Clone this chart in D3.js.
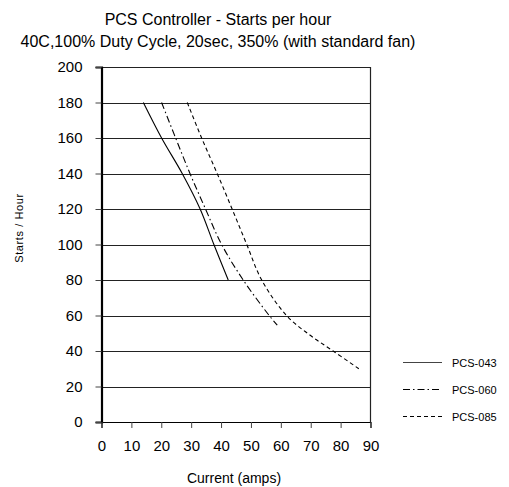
<!DOCTYPE html>
<html>
<head>
<meta charset="utf-8">
<script src="https://cdn.jsdelivr.net/npm/d3@7"></script>
<style>
body { margin: 0; background: #fff; }
text { font-family: "Liberation Sans Narrow", "Liberation Sans", Arial, sans-serif; fill: #000; }
</style>
</head>
<body>
<div id="chart-area"></div>
<script>
// data
var seriesNames = ["PCS-043", "PCS-060", "PCS-085"];
var pcs043 = [[14, 180], [20.1, 160], [27.0, 140], [33.0, 120], [37.6, 100], [42.4, 80]];
var pcs060 = [[20.1, 180], [24.8, 160], [29.6, 140], [34.8, 120], [40.2, 100], [47.4, 80], [56.1, 60], [58.8, 54.6]];
var pcs085 = [[28.7, 180], [33.5, 160], [38.7, 140], [43.7, 120], [48.6, 100], [53.6, 80], [61.9, 60], [69.7, 49], [77.5, 40], [86.1, 30]];
var xTicks = [0, 10, 20, 30, 40, 50, 60, 70, 80, 90];
var yTicks = [0, 20, 40, 60, 80, 100, 120, 140, 160, 180, 200];

var width = 509, height = 487;
var margin = {left: 101.5, right: 138.5, top: 67, bottom: 65};

var svg = d3.select("#chart-area").append("svg")
    .attr("width", width)
    .attr("height", height);

var x = d3.scaleLinear().domain([0, 90]).range([margin.left, width - margin.right]);
var y = d3.scaleLinear().domain([0, 200]).range([height - margin.bottom, margin.top]);

// title
svg.append("text").attr("x", 218).attr("y", 25).attr("text-anchor", "middle")
    .style("font-size", "16px").text("PCS Controller - Starts per hour");
svg.append("text").attr("x", 218).attr("y", 47).attr("text-anchor", "middle")
    .style("font-size", "16px").text("40C,100% Duty Cycle, 20sec, 350% (with standard fan)");

// horizontal gridlines
svg.append("g").selectAll("line").data(yTicks).enter().append("line")
    .attr("x1", x(0)).attr("x2", x(90))
    .attr("y1", function(d) { return Math.round(y(d)) + 0.5; })
    .attr("y2", function(d) { return Math.round(y(d)) + 0.5; })
    .attr("stroke", "#222").attr("stroke-width", 1);

// right border
svg.append("line").attr("x1", x(90)).attr("x2", x(90)).attr("y1", y(200)).attr("y2", y(0))
    .attr("stroke", "#222").attr("stroke-width", 1.2);

// y axis
var yAxis = svg.append("g").attr("transform", "translate(" + x(0) + ",0)")
    .call(d3.axisLeft(y).tickValues(yTicks).tickSize(6).tickPadding(13));
yAxis.select(".domain").attr("stroke", "#000").attr("stroke-width", 2.2);
yAxis.selectAll(".tick line").attr("stroke", "#444");
yAxis.selectAll("text").style("font-size", "15px").style("font-family", null);

// x axis
var xAxis = svg.append("g").attr("transform", "translate(0," + y(0) + ")")
    .call(d3.axisBottom(x).tickValues(xTicks).tickSize(6).tickPadding(12));
xAxis.select(".domain").attr("stroke", "#000").attr("stroke-width", 1.2);
xAxis.selectAll(".tick line").attr("stroke", "#444");
xAxis.selectAll("text").style("font-size", "15px").style("font-family", null);

// axis titles
svg.append("text").attr("x", 234).attr("y", 483).attr("text-anchor", "middle")
    .style("font-size", "14px").text("Current (amps)");
svg.append("text").attr("transform", "translate(23,228) rotate(-90)").attr("text-anchor", "middle")
    .style("font-size", "11px").style("letter-spacing", "0.6px").text("Starts / Hour");

// curves
var dashes = [null, "7,3,1.5,3", "4,3"];
var line = d3.line()
    .x(function(d) { return x(d[0]); })
    .y(function(d) { return y(d[1]); })
    .curve(d3.curveCatmullRom);

var all = [pcs043, pcs060, pcs085];
svg.append("g").selectAll("path").data(all).enter().append("path")
    .attr("d", line)
    .attr("fill", "none")
    .attr("stroke", "#000")
    .attr("stroke-width", 1.1)
    .attr("stroke-dasharray", function(d, i) { return dashes[i]; });

// legend
var legend = svg.append("g").selectAll("g").data(seriesNames).enter().append("g")
    .attr("transform", function(d, i) { return "translate(403," + (362.5 + i * 27) + ")"; });
legend.append("line").attr("x1", 0).attr("x2", 39).attr("y1", 0).attr("y2", 0)
    .attr("stroke", function(d, i) { return i === 0 ? "#444" : "#000"; })
    .attr("stroke-width", 1)
    .attr("stroke-dasharray", function(d, i) { return dashes[i]; });
legend.append("text").attr("x", 49).attr("y", 4.5)
    .style("font-size", "11px").text(function(d) { return d; });
</script>
</body>
</html>
